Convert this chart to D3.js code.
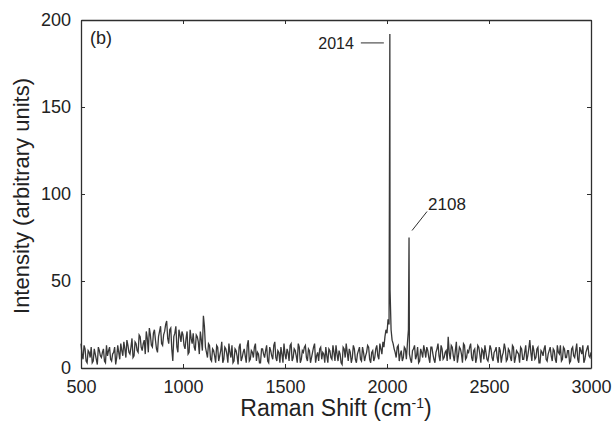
<!DOCTYPE html>
<html>
<head>
<meta charset="utf-8">
<script src="https://cdn.jsdelivr.net/npm/d3@7"></script>
<style>
  html, body { margin: 0; padding: 0; background: #fff; }
  svg { display: block; font-family: "Liberation Sans", Arial, Helvetica, sans-serif; }
</style>
</head>
<body>
<svg id="chart" width="614" height="423"></svg>
<script>
// ---- data ----
const shiftStart = 500;          // cm^-1, first sample of the even grid
const shiftStep = 10;            // cm^-1 between samples
const baselineIntensity = [      // samples at 500, 510, ... 3000
  14, 5, 11, 3, 9, 12, 4, 8, 2, 10,
  6, 11, 3, 7, 12, 4, 9, 2, 13, 5,
  10, 15, 6, 13, 8, 17, 7, 14, 9, 18,
  10, 16, 21, 9, 19, 12, 22, 11, 18, 24,
  13, 21, 27, 14, 23, 4, 20, 12, 22, 15,
  19, 11, 21, 9, 17, 20, 10, 18, 8, 16,
  30, 12, 6, 13, 4, 10, 3, 12, 7, 15,
  5, 11, 3, 9, 13, 4, 10, 2, 14, 6,
  11, 3, 16, 5, 9, 12, 4, 8, 3, 11,
  6, 13, 3, 10, 5, 15, 4, 9, 12, 3,
  8, 11, 4, 14, 6, 10, 3, 12, 5, 9,
  13, 4, 10, 6, 12, 3, 9, 11, 5, 8,
  12, 3, 10, 5, 9, 13, 4, 8, 2, 11,
  14, 4, 9, 6, 11, 3, 10, 5, 12, 4,
  9, 12, 3, 10, 6, 13, 5, 11, 15, 18,
  20, 25, 22, 14, 9, 12, 4, 10, 6, 11,
  14, 8, 3, 11, 5, 12, 4, 9, 13, 6,
  10, 3, 12, 5, 9, 14, 4, 11, 6, 10,
  18, 5, 12, 4, 15, 7, 11, 3, 13, 6,
  9, 14, 4, 11, 6, 12, 3, 10, 13, 5,
  8, 11, 4, 10, 6, 12, 3, 9, 11, 5,
  10, 4, 12, 6, 9, 3, 11, 5, 13, 7,
  16, 4, 10, 6, 12, 3, 9, 11, 5, 8,
  12, 4, 10, 3, 9, 13, 5, 11, 6, 10,
  4, 12, 6, 14, 3, 10, 13, 5, 11, 7,
  9
];
const halfStart = 505;           // samples at 505, 515, ... 2995
const baselineIntensityHalf = [
  8, 13, 4, 10, 6, 3, 11, 5, 12, 7,
  9, 4, 13, 10, 5, 8, 12, 6, 9, 14,
  7, 11, 16, 9, 12, 6, 15, 10, 19, 12,
  14, 8, 17, 23, 13, 20, 16, 9, 21, 14,
  19, 25, 17, 22, 11, 18, 24, 9, 19, 21,
  13, 17, 8, 22, 14, 12, 19, 15, 21, 10,
  24, 9, 14, 5, 11, 7, 13, 4, 10, 3,
  12, 8, 14, 6, 3, 11, 7, 12, 4, 9,
  7, 13, 4, 10, 6, 14, 9, 3, 11, 8,
  10, 4, 12, 7, 13, 6, 10, 3, 8, 14,
  5, 9, 13, 4, 11, 7, 14, 3, 10, 12,
  6, 11, 3, 9, 14, 7, 4, 12, 9, 3,
  7, 11, 6, 13, 4, 8, 10, 3, 12, 6,
  9, 11, 3, 13, 5, 8, 12, 4, 9, 7,
  13, 5, 9, 4, 11, 7, 14, 8, 12, 22,
  28, 45, 16, 11, 6, 13, 8, 4, 12, 5,
  22, 5, 10, 13, 7, 3, 11, 6, 10, 12,
  6, 12, 8, 3, 11, 7, 13, 5, 9, 4,
  9, 13, 7, 10, 3, 12, 8, 14, 5, 10,
  12, 6, 10, 3, 13, 8, 11, 5, 9, 4,
  13, 6, 9, 12, 3, 10, 7, 14, 4, 11,
  6, 13, 3, 10, 8, 12, 5, 9, 4, 11,
  9, 13, 5, 11, 3, 10, 7, 13, 4, 10,
  7, 11, 5, 13, 8, 4, 12, 6, 10, 3,
  11, 7, 10, 5, 12, 8, 3, 9, 13, 6
];
const peakShift = [2014, 2108];
const peakIntensity = [192, 75];
const peakLabels = ["2014", "2108"];
const xTicks = [500, 1000, 1500, 2000, 2500, 3000];
const yTicks = [0, 50, 100, 150, 200];

// ---- layout ----
const svg = d3.select("#chart");
const L = 81, R = 591, T = 20, B = 368;
const x = d3.scaleLinear().domain([500, 3000]).range([L, R]);
const y = d3.scaleLinear().domain([0, 200]).range([B, T]);

// merge baseline grids and peaks
const pts = baselineIntensity.map((v, i) => ({ s: shiftStart + i * shiftStep, v }))
  .concat(baselineIntensityHalf.map((v, i) => ({ s: halfStart + i * shiftStep, v })));
peakShift.forEach((s, i) => pts.push({ s, v: peakIntensity[i] }));
pts.sort((a, b) => a.s - b.s);

const ink = "#2e2e2e";

// spectrum
svg.append("path")
  .datum(pts)
  .attr("fill", "none")
  .attr("stroke", "#383838")
  .attr("stroke-width", 1.3)
  .attr("d", d3.line().x(d => x(d.s)).y(d => y(d.v)));

// axes (inward ticks, boxed)
const tickLen = 4;
const fmt = d3.format("d");
const gBottom = svg.append("g").attr("transform", `translate(0,${B})`)
  .call(d3.axisBottom(x).tickValues(xTicks).tickFormat(fmt).tickSizeInner(-tickLen).tickSizeOuter(0).tickPadding(12));
const gTop = svg.append("g").attr("transform", `translate(0,${T})`)
  .call(d3.axisTop(x).tickValues(xTicks).tickSizeInner(-tickLen).tickSizeOuter(0).tickFormat(""));
const gLeft = svg.append("g").attr("transform", `translate(${L},0)`)
  .call(d3.axisLeft(y).tickValues(yTicks).tickFormat(fmt).tickSizeInner(-tickLen).tickSizeOuter(0).tickPadding(10));
const gRight = svg.append("g").attr("transform", `translate(${R},0)`)
  .call(d3.axisRight(y).tickValues(yTicks).tickSizeInner(-tickLen).tickSizeOuter(0).tickFormat(""));

[gBottom, gTop, gLeft, gRight].forEach(g => {
  g.select(".domain").attr("stroke", ink).attr("stroke-width", 1.3);
  g.selectAll(".tick line").attr("stroke", ink).attr("stroke-width", 1);
  g.selectAll("text").attr("fill", "#222").style("font-size", "18px").style("font-family", "'Liberation Sans', Arial, sans-serif");
});
gBottom.selectAll(".tick text").attr("dy", "0.71em");

// panel label
svg.append("text").attr("x", 90).attr("y", 44).attr("fill", "#222")
  .style("font-size", "18px").text("(b)");

// peak annotations
svg.append("text").attr("x", x(peakShift[0]) - 36).attr("y", y(peakIntensity[0]) + 15)
  .attr("text-anchor", "end").attr("fill", "#222").style("font-size", "16px").text(peakLabels[0]);
svg.append("line")
  .attr("x1", x(peakShift[0]) - 29).attr("x2", x(peakShift[0]) - 6)
  .attr("y1", y(peakIntensity[0]) + 9).attr("y2", y(peakIntensity[0]) + 9)
  .attr("stroke", ink).attr("stroke-width", 1);
svg.append("line")
  .attr("x1", x(peakShift[1]) + 3).attr("y1", y(peakIntensity[1]) - 7)
  .attr("x2", x(peakShift[1]) + 18).attr("y2", y(peakIntensity[1]) - 26)
  .attr("stroke", ink).attr("stroke-width", 1);
svg.append("text").attr("x", x(peakShift[1]) + 19).attr("y", y(peakIntensity[1]) - 28)
  .attr("fill", "#222").style("font-size", "17px").text(peakLabels[1]);

// axis titles
const xt = svg.append("text").attr("x", (L + R) / 2).attr("y", 416).attr("text-anchor", "middle")
  .attr("fill", "#222").style("font-size", "23px");
xt.append("tspan").text("Raman Shift (cm");
xt.append("tspan").attr("dy", -8).style("font-size", "14px").text("-1");
xt.append("tspan").attr("dy", 8).text(")");

svg.append("text").attr("transform", `translate(29,196) rotate(-90)`)
  .attr("text-anchor", "middle").attr("fill", "#222").style("font-size", "22px")
  .text("Intensity (arbitrary units)");
</script>
</body>
</html>
